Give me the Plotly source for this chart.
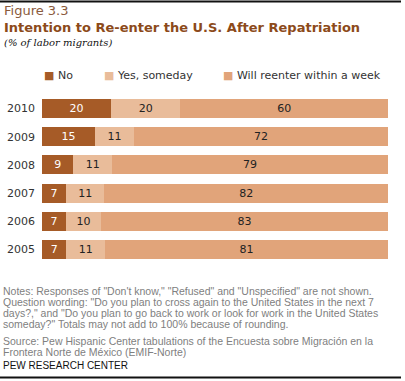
import plotly.graph_objects as go

years = ["2010", "2009", "2008", "2007", "2006", "2005"]
no_vals = [20, 15, 9, 7, 7, 7]
someday_vals = [20, 11, 11, 11, 10, 11]
week_vals = [60, 72, 79, 82, 83, 81]
series_names = ["No", "Yes, someday", "Will reenter within a week"]
colors = ["#A65B27", "#E9BC9A", "#E1A47A"]
text_colors = ["#FFFFFF", "#222222", "#222222"]

notes_lines = [
    'Notes: Responses of "Don\'t know," "Refused" and "Unspecified" are not shown.',
    'Question wording: "Do you plan to cross again to the United States in the next 7',
    'days?," and "Do you plan to go back to work or look for work in the United States',
    'someday?" Totals may not add to 100% because of rounding.',
]
source_lines = [
    'Source: Pew Hispanic Center tabulations of the Encuesta sobre Migración en la',
    'Frontera Norte de México (EMIF-Norte)',
]

W, H = 405, 381
def py(px):
    return 1 - px / H
def px_(x):
    return x / W

fig = go.Figure()
for name, vals, c, tc in zip(series_names, [no_vals, someday_vals, week_vals], colors, text_colors):
    fig.add_trace(go.Bar(
        y=years, x=vals, name=name, orientation="h",
        marker=dict(color=c, line=dict(width=0)),
        text=[str(v) for v in vals], textposition="inside", insidetextanchor="middle",
        textangle=0,
        textfont=dict(family="DejaVu Sans", size=11, color=tc),
        constraintext="none", hoverinfo="skip", showlegend=False,
    ))

fig.update_layout(
    width=W, height=H, margin=dict(l=0, r=0, t=0, b=0, autoexpand=False),
    paper_bgcolor="white", plot_bgcolor="white",
    barmode="stack", barnorm="percent", bargap=0.33,
    xaxis=dict(domain=[px_(42), px_(388)], range=[0, 100], showgrid=False, automargin=False,
               showticklabels=False, zeroline=False, showline=False, fixedrange=True),
    yaxis=dict(domain=[py(263.5), py(94.5)], autorange="reversed", showgrid=False, automargin=False,
               showline=False, ticks="", ticklabelstandoff=6, fixedrange=True,
               tickfont=dict(family="DejaVu Sans", size=11, color="#333333")),
    font=dict(family="DejaVu Sans"),
)

def A(**kw):
    d = dict(xref="paper", yref="paper", showarrow=False)
    d.update(kw)
    return d

ann = []
ann.append(A(x=px_(2), y=py(11), text="Figure 3.3", xanchor="left", yanchor="middle",
             font=dict(family="DejaVu Sans", size=13, color="#8A5A3C")))
ann.append(A(x=px_(2), y=py(28), text="<b>Intention to Re-enter the U.S. After Repatriation</b>",
             xanchor="left", yanchor="middle", font=dict(family="DejaVu Sans", size=13, color="#8C4A1A")))
ann.append(A(x=px_(2), y=py(43), text="<i>(% of labor migrants)</i>",
             xanchor="left", yanchor="middle", font=dict(family="DejaVu Serif", size=10, color="#111111")))

legend_x = [42, 102, 221]
for name, c, lx in zip(series_names, colors, legend_x):
    ann.append(A(x=px_(lx), y=py(75), text=f'<span style="color:{c}">■</span> {name}',
                 xanchor="left", yanchor="middle", font=dict(family="DejaVu Sans", size=11, color="#333333")))

notes_y = [291, 302, 313, 324]
for t, yy in zip(notes_lines, notes_y):
    ann.append(A(x=px_(1), y=py(yy), text=t, xanchor="left", yanchor="middle",
                 font=dict(family="Liberation Sans", size=10.5, color="#808080")))
source_y = [341, 352]
for t, yy in zip(source_lines, source_y):
    ann.append(A(x=px_(1), y=py(yy), text=t, xanchor="left", yanchor="middle",
                 font=dict(family="Liberation Sans", size=10.5, color="#808080")))
ann.append(A(x=px_(1), y=py(365), text="PEW RESEARCH CENTER", xanchor="left", yanchor="middle",
             font=dict(family="Liberation Sans", size=10, color="#111111")))
fig.update_layout(annotations=ann)

fig.add_shape(type="line", xref="paper", yref="paper", x0=0, x1=px_(401), y0=py(1.5), y1=py(1.5),
              line=dict(color="#111111", width=2), layer="above")
fig.add_shape(type="line", xref="paper", yref="paper", x0=0, x1=px_(401), y0=py(377.5), y1=py(377.5),
              line=dict(color="#111111", width=2), layer="above")

fig.write_html("out.html", config={"displayModeBar": False},
               post_script="document.body.style.margin='0';")
